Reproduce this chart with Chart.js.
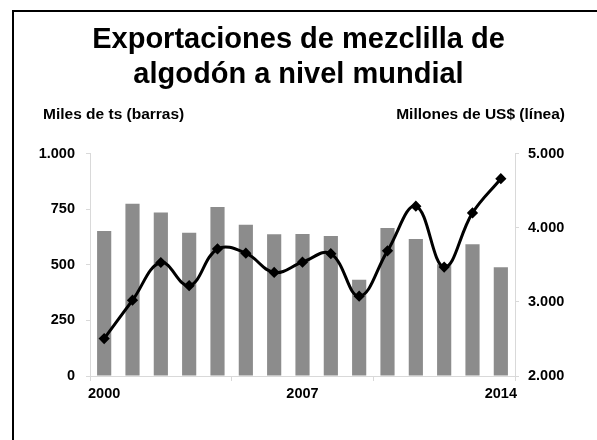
<!DOCTYPE html>
<html>
<head>
<meta charset="utf-8">
<script src="https://cdn.jsdelivr.net/npm/chart.js@4"></script>
<style>
  body { margin: 0; background: #fff; }
  #wrap { position: relative; width: 597px; height: 440px; overflow: hidden; }
  #frame { position: absolute; left: 12px; top: 10px; width: 700px; height: 600px; border-left: 2px solid #000; border-top: 2px solid #000; }
  .axisTitle { position: absolute; top: 105px; line-height: 18px; font: bold 15.5px "Liberation Sans", Arial, sans-serif; color: #000; white-space: nowrap; }
  canvas { position: absolute; left: 0; top: 0; }
</style>
</head>
<body>
<div id="wrap">
  <div id="frame"></div>
  <canvas id="chart" width="597" height="440"></canvas>
  <div class="axisTitle" style="left:43px">Miles de ts (barras)</div>
  <div class="axisTitle" style="right:32px">Millones de US$ (línea)</div>
</div>
<script>
var years = ['2000', '2001', '2002', '2003', '2004', '2005', '2006', '2007', '2008', '2009', '2010', '2011', '2012', '2013', '2014'];
var tonnes = [652, 775, 735, 644, 760, 680, 637, 638, 629, 433, 665, 616, 503, 592, 489];
var dollars = [2505, 3022, 3531, 3219, 3714, 3656, 3397, 3536, 3650, 3076, 3688, 4290, 3469, 4200, 4661];
var shownYears = ['2000', '2007', '2014'];
var leftTicks = [0, 250, 500, 750, 1000];
var rightTicks = [2000, 3000, 4000, 5000];

var font = 'Liberation Sans, Arial, sans-serif';
var axisGrey = '#d9d9d9';

function fmt(v) {
  return v.toLocaleString('de-DE');
}

var ctx = document.getElementById('chart');
var myChart = new Chart(ctx, {
  type: 'bar',
  data: {
    labels: years,
    datasets: [{
      type: 'line',
      label: 'Millones de US$',
      data: dollars,
      yAxisID: 'y1',
      borderColor: '#000',
      backgroundColor: '#000',
      borderWidth: 3,
      tension: 0.4,
      pointStyle: 'rectRot',
      pointRadius: 3.5,
      order: 0
    }, {
      label: 'Miles de ts',
      data: tonnes,
      yAxisID: 'y',
      backgroundColor: '#8c8c8c',
      barPercentage: 0.5,
      categoryPercentage: 1,
      order: 1
    }]
  },
  options: {
    responsive: false,
    animation: false,
    layout: { padding: 0 },
    plugins: {
      legend: { display: false },
      tooltip: { enabled: false },
      title: {
        display: true,
        text: ['Exportaciones de mezclilla de', 'algodón a nivel mundial'],
        color: '#000',
        font: { family: font, size: 29, weight: 'bold', lineHeight: 1.2 },
        padding: { top: 23, bottom: 61 }
      }
    },
    scales: {
      x: {
        offset: true,
        afterFit: function (s) { s.height = 64; },
        border: { color: axisGrey },
        grid: {
          offset: true,
          drawOnChartArea: false,
          tickLength: 5,
          color: function (c) {
            return (c.index === undefined || c.index % 5 === 0) ? axisGrey : 'rgba(0,0,0,0)';
          }
        },
        ticks: {
          autoSkip: false,
          maxRotation: 0,
          padding: 4,
          color: '#000',
          font: { family: font, size: 14.5, weight: 'bold' },
          callback: function (v, i) {
            return shownYears.indexOf(years[i]) >= 0 ? years[i] : '';
          }
        }
      },
      y: {
        position: 'left',
        min: 0,
        max: 1000,
        afterFit: function (s) { s.width = 90; },
        afterBuildTicks: function (s) { s.ticks = leftTicks.map(function (v) { return { value: v }; }); },
        border: { color: axisGrey },
        grid: { drawOnChartArea: false, tickLength: 4, color: axisGrey },
        ticks: {
          padding: 11,
          color: '#000',
          font: { family: font, size: 14.5, weight: 'bold' },
          callback: function (v) { return fmt(v); }
        }
      },
      y1: {
        position: 'right',
        min: 2000,
        max: 5000,
        afterFit: function (s) { s.width = 82; },
        afterBuildTicks: function (s) { s.ticks = rightTicks.map(function (v) { return { value: v }; }); },
        border: { color: axisGrey },
        grid: { drawOnChartArea: false, tickLength: 4, color: axisGrey },
        ticks: {
          padding: 9,
          color: '#000',
          font: { family: font, size: 14.5, weight: 'bold' },
          callback: function (v) { return fmt(v); }
        }
      }
    }
  }
});
</script>
</body>
</html>
